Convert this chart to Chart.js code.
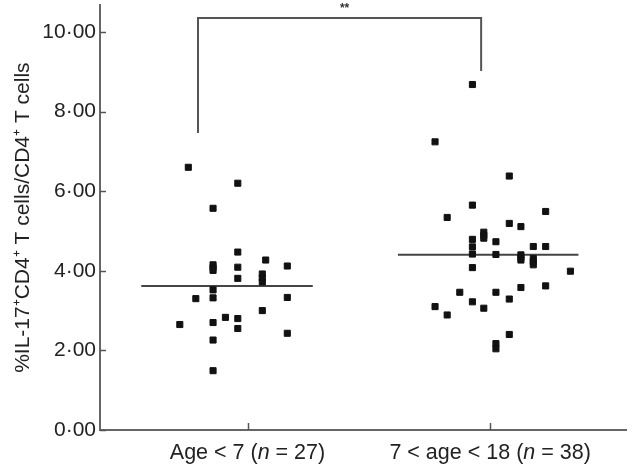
<!DOCTYPE html>
<html>
<head>
<meta charset="utf-8">
<script src="https://cdn.jsdelivr.net/npm/chart.js@4.4.0/dist/chart.umd.min.js"></script>
<style>
  html, body { margin: 0; padding: 0; background: #fff; }
  #wrap { width: 632px; height: 466px; }
</style>
</head>
<body>
<div id="wrap"><canvas id="myChart"></canvas></div>
<script>
// groups and tick values
var groupLabels = ['Age < 7', '7 < age < 18'];
var groupN = [27, 38];
var yTicks = [0, 2, 4, 6, 8, 10];

// group 1: horizontal jitter (in category units) and values
var group1Jitter = [-0.244, -0.040, -0.142, -0.040, 0.075, -0.142, -0.142, -0.142, -0.040, 0.164,
  -0.040, 0.061, 0.061, 0.061, -0.142, -0.142, -0.213, 0.164, 0.061, -0.091,
  -0.040, -0.040, -0.279, -0.142, -0.142, 0.164, -0.142];
var group1Values = [6.60, 6.20, 5.57, 4.47, 4.27, 4.15, 4.08, 4.01, 4.09, 4.12,
  3.81, 3.92, 3.82, 3.72, 3.52, 3.32, 3.30, 3.33, 3.00, 2.83,
  2.80, 2.55, 2.65, 2.70, 2.26, 2.43, 1.49];
var group1Median = 3.62;

// group 2
var group2Jitter = [-0.073, -0.227, 0.079, -0.073, -0.177, 0.229, 0.079, 0.127, -0.026, -0.026,
  -0.026, 0.024, -0.073, -0.073, -0.073, -0.073, 0.024, 0.127, 0.127, 0.127,
  0.178, 0.178, 0.178, 0.178, 0.229, 0.331, -0.125, 0.024, 0.127, 0.229,
  0.079, -0.073, -0.227, -0.026, -0.177, 0.079, 0.024, 0.024];
var group2Values = [8.68, 7.24, 6.38, 5.65, 5.34, 5.49, 5.19, 5.11, 4.97, 4.89,
  4.82, 4.73, 4.79, 4.60, 4.42, 4.08, 4.41, 4.40, 4.33, 4.27,
  4.31, 4.23, 4.15, 4.61, 4.61, 3.99, 3.46, 3.46, 3.58, 3.62,
  3.29, 3.22, 3.10, 3.06, 2.89, 2.40, 2.17, 2.04];
var group2Median = 4.40;

// significance bracket
var bracketX = [-0.204, -0.204, 0.963, 0.963];
var bracketY = [7.46, 10.35, 10.35, 9.02];
var bracketText = '**';

function toPoints(offset, jit, vals) {
  var pts = [];
  for (var i = 0; i < vals.length; i++) {
    pts.push({x: offset + jit[i], y: vals[i]});
  }
  return pts;
}

var FONT = "'Liberation Sans', Arial, Helvetica, sans-serif";

// ticks pointing inward + category labels with italic n + stars
var extras = {
  id: 'extras',
  afterDraw: function(chart) {
    var ctx = chart.ctx;
    var xs = chart.scales.x, ys = chart.scales.y;
    ctx.save();
    ctx.strokeStyle = '#555';
    ctx.lineWidth = 1.5;
    yTicks.forEach(function(v) {
      var py = Math.round(ys.getPixelForValue(v)) + 0.5;
      ctx.beginPath();
      ctx.moveTo(xs.left, py);
      ctx.lineTo(xs.left + 6, py);
      ctx.stroke();
    });
    [0, 1].forEach(function(v) {
      var px = Math.round(xs.getPixelForValue(v)) + 0.5;
      ctx.beginPath();
      ctx.moveTo(px, ys.bottom);
      ctx.lineTo(px, ys.bottom - 7);
      ctx.stroke();
    });

    // category labels
    ctx.fillStyle = '#222';
    ctx.textBaseline = 'middle';
    ctx.textAlign = 'left';
    groupLabels.forEach(function(lab, i) {
      var parts = [
        {t: lab + ' (', f: '21.5px ' + FONT},
        {t: 'n', f: 'italic 21.5px ' + FONT},
        {t: ' = ' + groupN[i] + ')', f: '21.5px ' + FONT}
      ];
      var w = 0;
      parts.forEach(function(p) { ctx.font = p.f; w += ctx.measureText(p.t).width; });
      var x = xs.getPixelForValue(i) - w / 2;
      var y = ys.bottom + 23;
      parts.forEach(function(p) {
        ctx.font = p.f;
        ctx.fillText(p.t, x, y);
        x += ctx.measureText(p.t).width;
      });
    });

    // stars
    ctx.font = 'bold 12px ' + FONT;
    ctx.textAlign = 'center';
    ctx.fillStyle = '#333';
    ctx.fillText(bracketText, xs.getPixelForValue(0.40), ys.getPixelForValue(10.58));
    ctx.restore();
  }
};

var ctx = document.getElementById('myChart').getContext('2d');
var chart = new Chart(ctx, {
  type: 'scatter',
  data: {
    datasets: [
      {
        data: toPoints(0, group1Jitter, group1Values),
        pointStyle: 'rect', pointRadius: 4.3, borderWidth: 1,
        backgroundColor: '#111', borderColor: '#111'
      },
      {
        data: toPoints(1, group2Jitter, group2Values),
        pointStyle: 'rect', pointRadius: 4.3, borderWidth: 1,
        backgroundColor: '#111', borderColor: '#111'
      },
      {
        data: [{x: -0.438, y: group1Median}, {x: 0.269, y: group1Median}],
        showLine: true, pointRadius: 0, borderColor: '#444', borderWidth: 2
      },
      {
        data: [{x: 0.62, y: group2Median}, {x: 1.364, y: group2Median}],
        showLine: true, pointRadius: 0, borderColor: '#444', borderWidth: 2
      },
      {
        data: bracketX.map(function(x, i) { return {x: x, y: bracketY[i]}; }),
        showLine: true, pointRadius: 0, borderColor: '#555', borderWidth: 2
      }
    ]
  },
  options: {
    responsive: true,
    maintainAspectRatio: false,
    animation: false,
    layout: {padding: 0},
    plugins: {legend: {display: false}, tooltip: {enabled: false}},
    scales: {
      x: {
        type: 'linear',
        min: -0.608, max: 1.563,
        grid: {display: false, drawTicks: false},
        border: {display: true, color: '#666', width: 2},
        ticks: {display: false},
        afterFit: function(s) { s.height = 36; s.paddingLeft = 0; s.paddingRight = 0; }
      },
      y: {
        min: 0, max: 10.67,
        grid: {display: false, drawTicks: false},
        border: {display: true, color: '#666', width: 2},
        afterBuildTicks: function(s) { s.ticks = yTicks.map(function(v) { return {value: v}; }); },
        ticks: {
          color: '#222',
          padding: 4,
          font: {family: FONT, size: 21},
          callback: function(v) { return v.toFixed(2).replace('.', '\u00b7'); }
        },
        title: {
          display: true,
          text: '%IL-17\u207ACD4\u207A T cells/CD4\u207A T cells',
          color: '#222',
          font: {family: FONT, size: 21},
          padding: {top: 11, bottom: 0}
        },
        afterFit: function(s) { s.width = 100; s.paddingTop = 0; s.paddingBottom = 0; }
      }
    }
  },
  plugins: [extras]
});
</script>
</body>
</html>
